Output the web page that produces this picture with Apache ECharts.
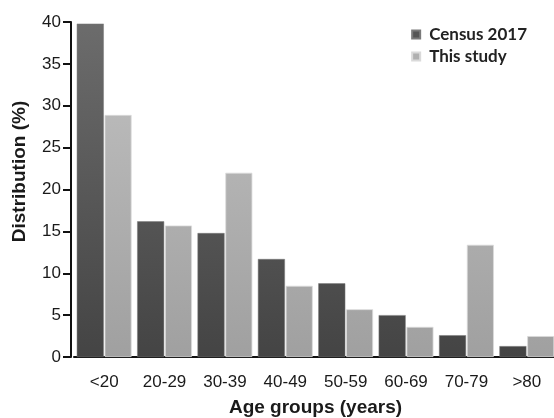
<!DOCTYPE html>
<html>
<head>
<meta charset="utf-8">
<script src="https://cdn.jsdelivr.net/npm/echarts@6/dist/echarts.min.js"></script>
<style>
html,body{margin:0;padding:0;background:#fff;}
#chart{width:554px;height:418px;}
</style>
</head>
<body>
<div id="chart"></div>
<script>
const categories = ['<20', '20-29', '30-39', '40-49', '50-59', '60-69', '70-79', '>80'];
const census2017 = [39.8, 16.2, 14.8, 11.7, 8.8, 5.0, 2.6, 1.3];
const thisStudy = [28.9, 15.7, 22.0, 8.5, 5.7, 3.6, 13.4, 2.5];
const yTicks = [0, 5, 10, 15, 20, 25, 30, 35, 40];

const gridTop = 22, gridBottom = 61;
function grad(c0, c1) {
  return { type: 'linear', x: 0, y: gridTop, x2: 0, y2: 418 - gridBottom, global: true,
    colorStops: [{ offset: 0, color: c0 }, { offset: 1, color: c1 }] };
}
const darkGrad = grad('#6c6c6c', '#444444');
const lightGrad = grad('#c2c2c2', '#a0a0a0');

const chart = echarts.init(document.getElementById('chart'), null, { renderer: 'canvas' });
chart.setOption({
  backgroundColor: '#ffffff',
  animation: false,
  grid: { left: 74, right: -3, top: gridTop, bottom: gridBottom, containLabel: false, outerBoundsMode: 'none' },
  legend: {
    right: 22, top: 21, orient: 'vertical', itemWidth: 8, itemHeight: 8, itemGap: 5,
    icon: 'rect',
    textStyle: { fontFamily: 'Lato', fontSize: 17, fontWeight: 'bold', color: '#222', padding: [0, 0, 0, 4] },
    data: [
      { name: 'Census 2017', itemStyle: { color: '#555555' } },
      { name: 'This study', itemStyle: { color: '#b0b0b0' } }
    ]
  },
  xAxis: {
    type: 'category',
    data: categories,
    name: 'Age groups (years)',
    nameLocation: 'middle',
    nameGap: 41,
    nameTextStyle: { fontFamily: 'Liberation Sans', fontSize: 19, fontWeight: 'bold', color: '#1a1a1a' },
    axisLine: { lineStyle: { color: '#111', width: 2 } },
    axisTick: { alignWithLabel: true, length: 9, lineStyle: { color: '#111', width: 2 } },
    axisLabel: { fontFamily: 'Liberation Sans', fontSize: 17, color: '#1a1a1a', margin: 17, interval: 0 }
  },
  yAxis: {
    type: 'value',
    min: 0, max: 40, interval: 5,
    offset: 3,
    name: 'Distribution (%)',
    nameLocation: 'middle',
    nameGap: 42,
    nameTextStyle: { fontFamily: 'Liberation Sans', fontSize: 19, fontWeight: 'bold', color: '#1a1a1a', padding: [0, 0, 0, 36] },
    axisLine: { show: true, lineStyle: { color: '#111', width: 2 } },
    axisTick: { show: true, length: 8, lineStyle: { color: '#111', width: 2 } },
    axisLabel: { fontFamily: 'Liberation Sans', fontSize: 17, color: '#1a1a1a', margin: 10,
      formatter: v => yTicks.includes(v) ? String(v) : '' },
    splitLine: { show: false }
  },
  series: [
    { name: 'Census 2017', type: 'bar', data: census2017, barWidth: 27, barGap: '3%',
      itemStyle: { color: darkGrad, borderColor: '#7a7a7a', borderWidth: 0.5 } },
    { name: 'This study', type: 'bar', data: thisStudy, barWidth: 27,
      itemStyle: { color: lightGrad, borderColor: '#dadada', borderWidth: 0.8 } }
  ]
});
</script>
</body>
</html>
